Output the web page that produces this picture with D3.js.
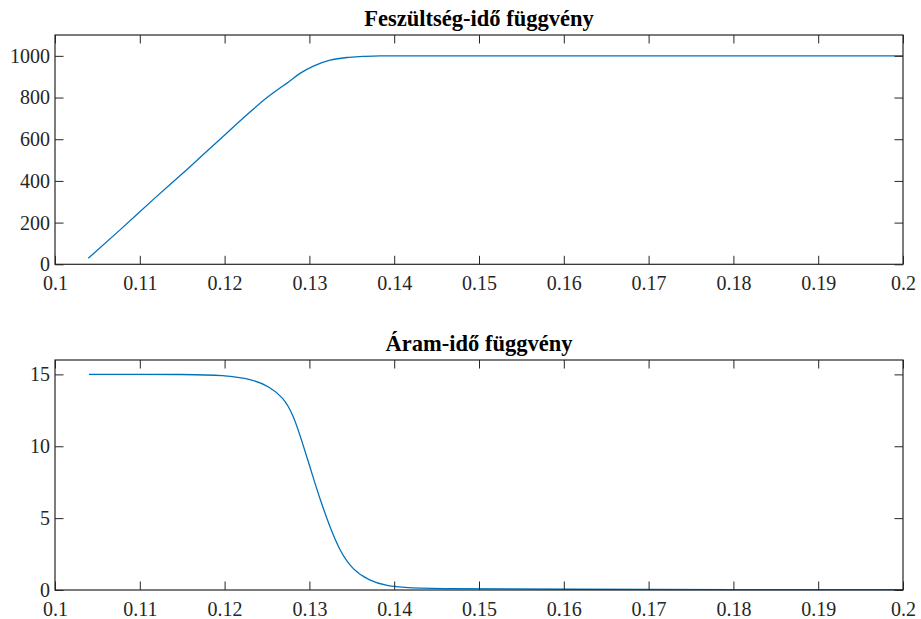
<!DOCTYPE html>
<html><head><meta charset="utf-8">
<script src="https://cdn.jsdelivr.net/npm/d3@7"></script>
<style>body{margin:0;background:#fff}svg{display:block}</style>
</head><body>
<svg id="c" width="921" height="619"></svg>
<script>
const xTicks = [0.1,0.11,0.12,0.13,0.14,0.15,0.16,0.17,0.18,0.19,0.2];
const xTickLabels = ["0.1","0.11","0.12","0.13","0.14","0.15","0.16","0.17","0.18","0.19","0.2"];
const vTicks = [0,200,400,600,800,1000];
const iTicks = [0,5,10,15];
const titleV = "Feszültség-idő függvény";
const titleI = "Áram-idő függvény";

// Voltage vs time
const vTime = [0.10393,0.1078,0.1117,0.1157,0.1196,0.1226,0.1250,0.12653,0.12732,0.12889,0.13047,0.13244,0.1344,0.1363,0.1383,0.145,0.16,0.18,0.2];
const vVal  = [29,170,315,460,605,716,800,846,868,916,951,979,992,997,1000,1000,1000,1000,1000];

// Current vs time
const iTime = [0.104,0.11,0.115,0.12,0.1233,0.1253,0.1269,0.1281,0.1292,0.1302,0.1312,0.1324,0.1336,0.1351,0.1371,0.1391,0.1415,0.145,0.16,0.18,0.2];
const iVal  = [15,15,15,14.95,14.65,14.15,13.4,12.2,10.2,8.3,6.4,4.4,2.7,1.4,0.63,0.28,0.15,0.09,0.05,0.03,0.02];

const svg = d3.select("#c");
const L = 55, R = 903;
const axisColor = "#262626", lineColor = "#0072BD";
const font = "'Liberation Serif','Times New Roman',serif";
const tickLen = 8.5;

function panel(top, bottom, yMax, yTicks, xs, ys, title, curve) {
  const x = d3.scaleLinear().domain([0.1,0.2]).range([L,R]);
  const y = d3.scaleLinear().domain([0,yMax]).range([bottom,top]);
  const g = svg.append("g");
  g.append("path")
    .datum(xs.map((t,i)=>[t,ys[i]]))
    .attr("fill","none").attr("stroke",lineColor).attr("stroke-width",1.3)
    .attr("stroke-linejoin","round")
    .attr("d", d3.line().x(d=>x(d[0])).y(d=>y(d[1])).curve(curve));
  const ax = d3.axisBottom(x).tickValues(xTicks).tickFormat((d,i)=>xTickLabels[i]).tickSizeInner(-tickLen).tickSizeOuter(0).tickPadding(12);
  const axT = d3.axisTop(x).tickValues(xTicks).tickFormat("").tickSizeInner(-tickLen).tickSizeOuter(0);
  const ay = d3.axisLeft(y).tickValues(yTicks).tickFormat(d3.format("d")).tickSizeInner(-tickLen).tickSizeOuter(0).tickPadding(5);
  const ayR = d3.axisRight(y).tickValues(yTicks).tickFormat("").tickSizeInner(-tickLen).tickSizeOuter(0);
  const style = s => {
    s.select(".domain").remove();
    s.selectAll("line").attr("stroke",axisColor).attr("stroke-width",1);
    s.selectAll("text").attr("fill","#262626").style("font-family",font).style("font-size","20px");
  };
  g.append("g").attr("transform",`translate(0,${bottom})`).call(ax).call(style);
  g.append("g").attr("transform",`translate(0,${top})`).call(axT).call(style);
  g.append("g").attr("transform",`translate(${L},0)`).call(ay).call(style);
  g.append("g").attr("transform",`translate(${R},0)`).call(ayR).call(style);
  g.append("rect").attr("x",L).attr("y",top).attr("width",R-L).attr("height",bottom-top)
    .attr("fill","none").attr("stroke",axisColor).attr("stroke-width",1.2);
  g.append("text").attr("x",(L+R)/2).attr("y",top-9).attr("text-anchor","middle")
    .style("font-family",font).style("font-size","22.5px").style("font-weight","bold").attr("fill","#000")
    .text(title);
}
panel(35, 264.3, 1100, vTicks, vTime, vVal, titleV, d3.curveMonotoneX);
panel(360, 590, 16, iTicks, iTime, iVal, titleI, d3.curveBasis);
</script>
</body></html>
